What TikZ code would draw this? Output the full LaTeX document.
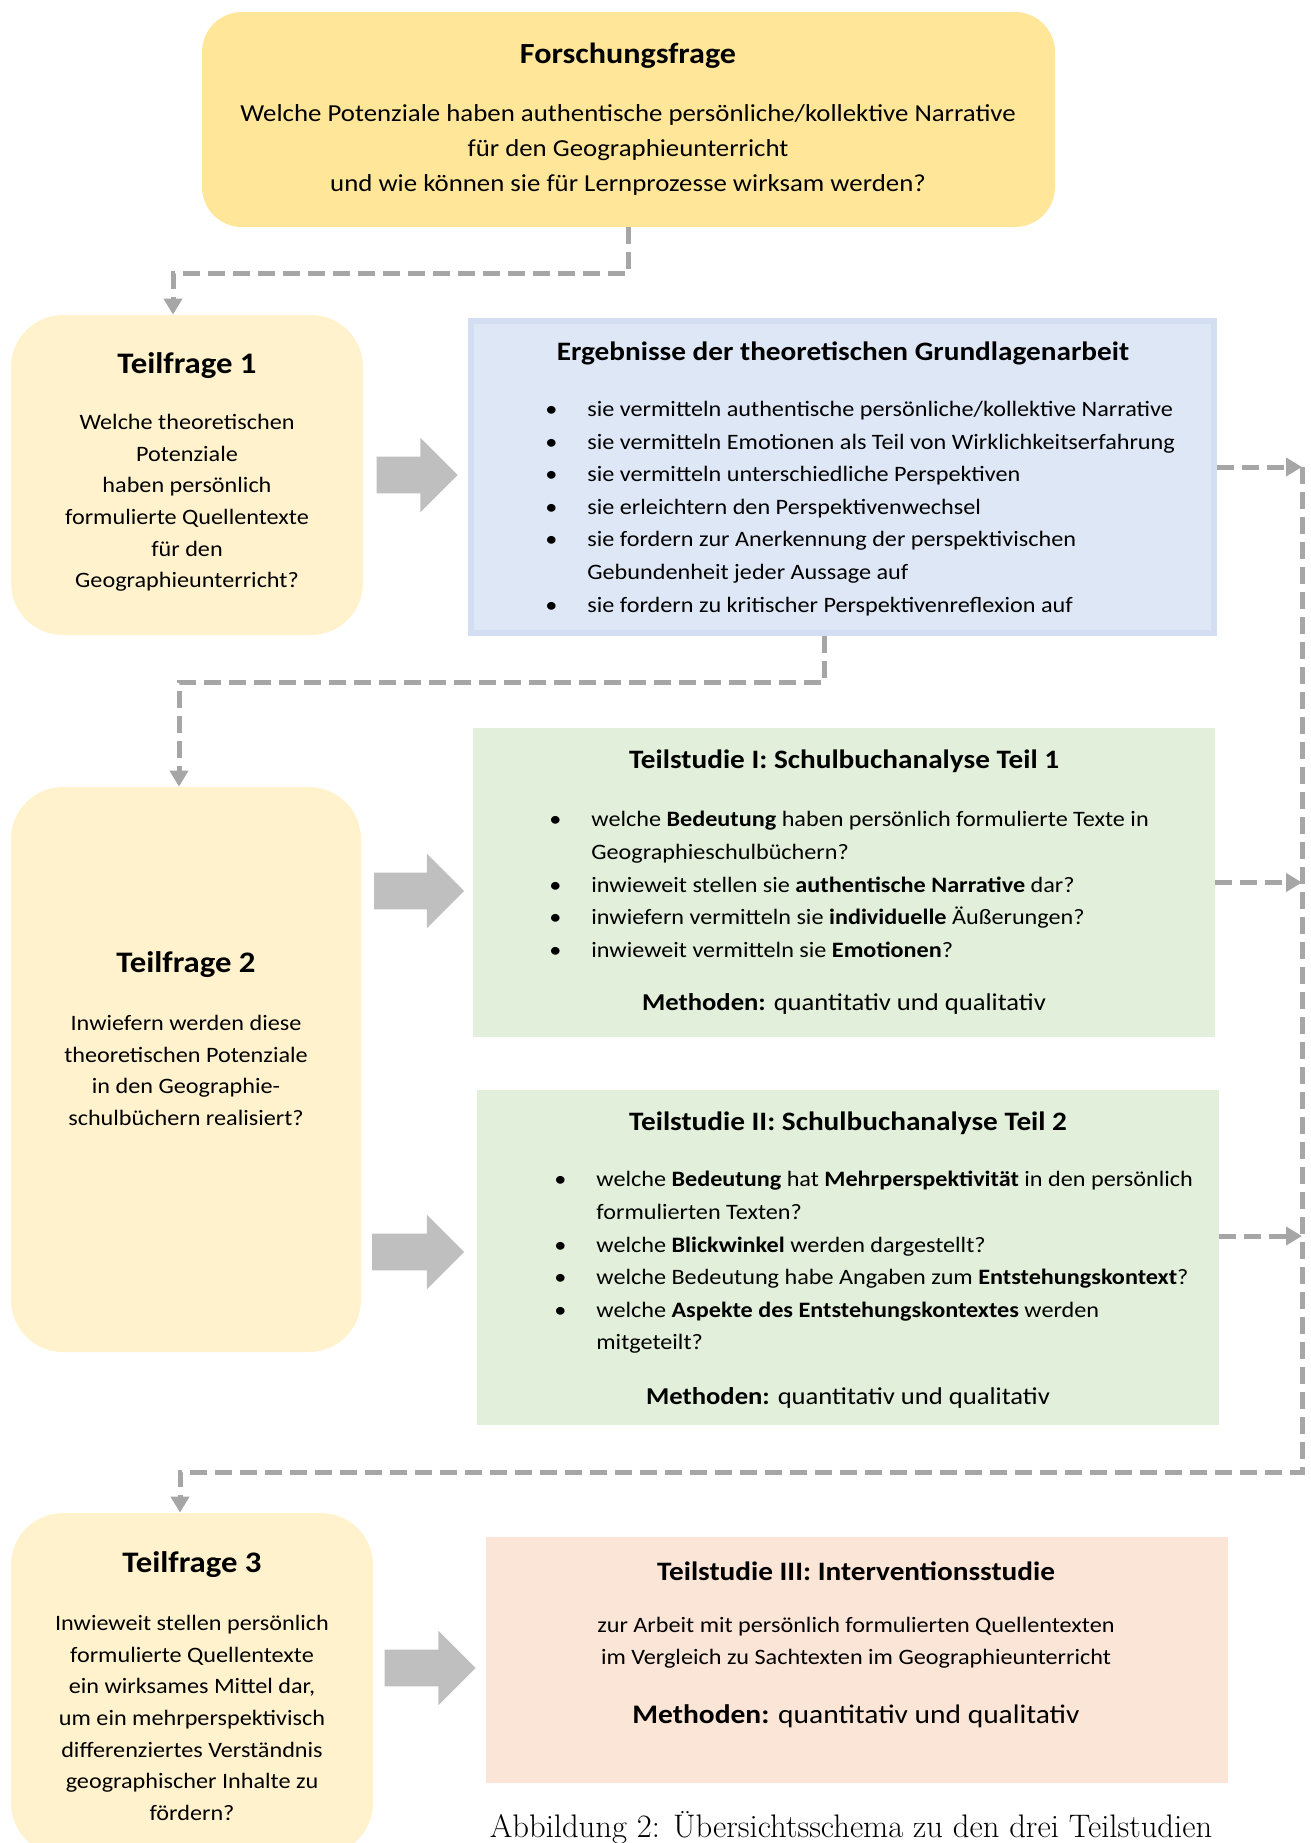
\documentclass[tikz,border=0pt]{standalone}
\usepackage{fontspec}
\newfontfamily\calibri[FakeStretch=1.1]{Carlito}
\usepackage{tikz}
\usetikzlibrary{positioning,calc,shapes.arrows,arrows.meta}

\definecolor{ffgelb}{HTML}{FFE699}
\definecolor{tfgelb}{HTML}{FFF2CC}
\definecolor{ergblau}{HTML}{DEE7F5}
\definecolor{ergrand}{HTML}{D3DEF2}
\definecolor{tsgruen}{HTML}{E2EFDA}
\definecolor{tsrot}{HTML}{FBE5D6}
\definecolor{pfeil}{HTML}{BFBFBF}
\definecolor{linie}{HTML}{A6A6A6}

\newcommand{\itm}{\makebox[21pt][l]{\textbullet}}
\newcommand{\cnt}{\hspace*{21pt}}

\begin{document}
\begin{tikzpicture}[x=0.5pt,y=-0.5pt,
  every node/.style={inner sep=0pt,font=\calibri},
  ffbox/.style={fill=ffgelb,rounded corners=20pt},
  tfbox/.style={fill=tfgelb,rounded corners=26pt},
  sqbox/.style={rectangle},
  ttl/.style={font=\calibri\bfseries\fontsize{13.3}{16}\selectfont},
  tfttl/.style={font=\calibri\bfseries\fontsize{14.9}{18}\selectfont},
  txt/.style={font=\calibri\fontsize{11}{15.8}\selectfont,align=center},
  lst/.style={font=\calibri\fontsize{11}{16.3}\selectfont,align=left,anchor=west},
  meth/.style={font=\calibri\fontsize{12.1}{14}\selectfont},
  block/.style={single arrow,fill=pfeil,inner xsep=0pt,inner ysep=9pt,
    minimum width=37pt,single arrow head extend=9.5pt},
  flow/.style={draw=linie,line width=2.5pt,dash pattern=on 8.5pt off 4pt,
    -{Triangle[width=9pt,length=8pt]}}]
\useasboundingbox (0,0) rectangle (1311,1843);

% Forschungsfrage
\node[ffbox,minimum width=426.5pt,minimum height=107.5pt] (ff) at (628.5,119.5) {};
\node[font=\calibri\bfseries\fontsize{14.6}{17}\selectfont] (ff-ttl) at (628,56) {Forschungsfrage};
\node[font=\calibri\fontsize{12.2}{17.6}\selectfont,align=center] (ff-txt) at (628,150)
  {Welche Potenziale haben authentische persönliche/kollektive Narrative\\
   für den Geographieunterricht\\
   und wie können sie für Lernprozesse wirksam werden?};

% Teilfragen
\node[tfbox,minimum width=176pt,minimum height=160pt] (tf1) at (187,475) {};
\node[tfttl] (tf1-ttl) at (187,366) {Teilfrage 1};
\node[txt] (tf1-txt) at (187,503)
  {Welche theoretischen\\Potenziale\\haben persönlich\\formulierte Quellentexte\\für den\\Geographieunterricht?};

\node[tfbox,minimum width=175pt,minimum height=282.5pt] (tf2) at (186,1069.5) {};
\node[tfttl] (tf2-ttl) at (186,965) {Teilfrage 2};
\node[txt] (tf2-txt) at (186,1070.5)
  {Inwiefern werden diese\\theoretischen Potenziale\\in den Geographie-\\schulbüchern realisiert?};

\node[tfbox,minimum width=181pt,minimum height=171pt] (tf3) at (192,1684) {};
\node[tfttl] (tf3-ttl) at (192,1565) {Teilfrage 3};
\node[txt] (tf3-txt) at (192,1718)
  {Inwieweit stellen persönlich\\formulierte Quellentexte\\ein wirksames Mittel dar,\\um ein mehrperspektivisch\\differenziertes Verständnis\\geographischer Inhalte zu\\fördern?};

% Ergebnisse
\node[sqbox,fill=ergblau,draw=ergrand,line width=3pt,minimum width=371.5pt,minimum height=156pt] (erg) at (842.5,477) {};
\node[ttl] (erg-ttl) at (843,353) {Ergebnisse der theoretischen Grundlagenarbeit};
\node[lst] (erg-txt) at (545,508.5)
  {\itm sie vermitteln authentische persönliche/kollektive Narrative\\
   \itm sie vermitteln Emotionen als Teil von Wirklichkeitserfahrung\\
   \itm sie vermitteln unterschiedliche Perspektiven\\
   \itm sie erleichtern den Perspektivenwechsel\\
   \itm sie fordern zur Anerkennung der perspektivischen\\
   \cnt Gebundenheit jeder Aussage auf\\
   \itm sie fordern zu kritischer Perspektivenreflexion auf};

% Teilstudie I
\node[sqbox,fill=tsgruen,minimum width=371pt,minimum height=154.5pt] (ts1) at (844,882.5) {};
\node[ttl] (ts1-ttl) at (844,761) {Teilstudie I: Schulbuchanalyse Teil 1};
\node[lst] (ts1-txt) at (549,884.5)
  {\itm welche \textbf{Bedeutung} haben persönlich formulierte Texte in\\
   \cnt Geographieschulbüchern?\\
   \itm inwieweit stellen sie \textbf{authentische Narrative} dar?\\
   \itm inwiefern vermitteln sie \textbf{individuelle} Äußerungen?\\
   \itm inwieweit vermitteln sie \textbf{Emotionen}?};
\node[meth] (ts1-meth) at (844,1004) {\textbf{Methoden:} quantitativ und qualitativ};

% Teilstudie II
\node[sqbox,fill=tsgruen,minimum width=371pt,minimum height=167.5pt] (ts2) at (848,1257.5) {};
\node[ttl] (ts2-ttl) at (848,1123) {Teilstudie II: Schulbuchanalyse Teil 2};
\node[lst] (ts2-txt) at (554,1262.5)
  {\itm welche \textbf{Bedeutung} hat \textbf{Mehrperspektivität} in den persönlich\\
   \cnt formulierten Texten?\\
   \itm welche \textbf{Blickwinkel} werden dargestellt?\\
   \itm welche Bedeutung habe Angaben zum \textbf{Entstehungskontext}?\\
   \itm welche \textbf{Aspekte des Entstehungskontextes} werden\\
   \cnt mitgeteilt?};
\node[meth] (ts2-meth) at (848,1398) {\textbf{Methoden:} quantitativ und qualitativ};

% Teilstudie III
\node[sqbox,fill=tsrot,minimum width=371pt,minimum height=123pt] (ts3) at (857,1660) {};
\node[ttl] (ts3-ttl) at (856,1571) {Teilstudie III: Interventionsstudie};
\node[txt,font=\calibri\fontsize{11}{16}\selectfont] (ts3-txt) at (856,1643)
  {zur Arbeit mit persönlich formulierten Quellentexten\\im Vergleich zu Sachtexten im Geographieunterricht};
\node[meth,font=\calibri\fontsize{13.4}{16}\selectfont] (ts3-meth) at (856,1716) {\textbf{Methoden:} quantitativ und qualitativ};

% Blockpfeile
\node[block,minimum height=40.5pt] (p1) at (408,475) {};
\node[block,minimum height=45pt] (p2) at (410,891) {};
\node[block,minimum height=46pt] (p3) at (409,1252) {};
\node[block,minimum height=45.5pt] (p4) at (421,1668) {};

% gestrichelte Verbindungen
\coordinate (rail-top) at (1302,467);
\coordinate (rail-bot) at (1302,1472);
\draw[flow] (ff.south) -- ++(0,46) -| ([xshift=-7pt]tf1.north);
\draw[flow] ([xshift=-9pt]erg.south) -- ++(0,46) -| ([xshift=-3.5pt]tf2.north);
\draw[flow] ([yshift=5pt]erg.east) -- (rail-top);
\draw[flow] (ts1.east) -- (ts1.east -| rail-top);
\draw[flow] ([yshift=10.75pt]ts2.east) -- ([yshift=10.75pt]ts2.east -| rail-top);
\draw[flow] (rail-top) -- (rail-bot) -| ([xshift=-6pt]tf3.north);

% Bildunterschrift
\node[font=\rmfamily\fontsize{16.3}{19}\selectfont] (caption) at (851,1828)
  {Abbildung 2: Übersichtsschema zu den drei Teilstudien};
\end{tikzpicture}
\end{document}
